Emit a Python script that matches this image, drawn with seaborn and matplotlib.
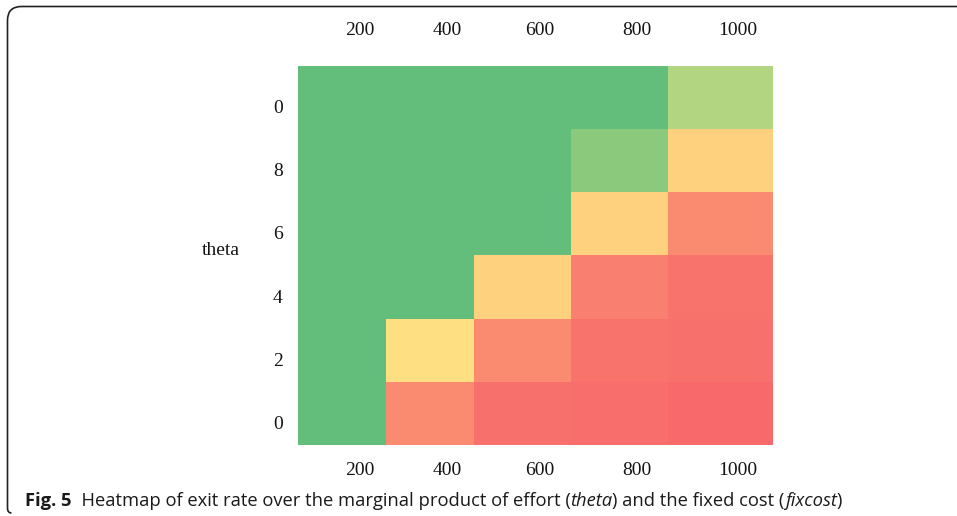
import numpy as np
import pandas as pd
import seaborn as sns
import matplotlib
matplotlib.use("Agg")
import matplotlib.pyplot as plt
from matplotlib.colors import LinearSegmentedColormap
from matplotlib.transforms import ScaledTranslation
from matplotlib.path import Path
from matplotlib.patches import PathPatch

# fixed cost (columns) and marginal product of effort (rows, top to bottom)
fixcost = [200, 400, 600, 800, 1000]
theta_labels = ["0", "8", "6", "4", "2", "0"]

# normalised exit rate per theta row
exit_theta_10 = [0.00, 0.00, 0.00, 0.00, 0.25]
exit_theta_8 = [0.00, 0.00, 0.00, 0.13, 0.60]
exit_theta_6 = [0.00, 0.00, 0.00, 0.60, 0.87]
exit_theta_4 = [0.00, 0.00, 0.60, 0.91, 0.96]
exit_theta_2 = [0.00, 0.54, 0.87, 0.96, 0.97]
exit_theta_0 = [0.00, 0.87, 0.97, 0.98, 1.00]

df = pd.DataFrame(
    [exit_theta_10, exit_theta_8, exit_theta_6, exit_theta_4, exit_theta_2, exit_theta_0],
    index=theta_labels, columns=fixcost,
)

cmap = LinearSegmentedColormap.from_list("gyr", ["#63BE7B", "#FFEB84", "#F8696B"])

# column widths of the grid are not uniform: warp the x axis piecewise-linearly
col_edges = np.array([0, 1, 2, 3, 4, 5], dtype=float)
col_warp = np.array([0, 0.926, 1.853, 2.874, 3.895, 5.0])


def _interp_ext(x, xp, fp):
    x = np.asarray(x, dtype=float)
    y = np.interp(x, xp, fp)
    lo = x < xp[0]
    hi = x > xp[-1]
    y = np.where(lo, fp[0] + (x - xp[0]) * (fp[1] - fp[0]) / (xp[1] - xp[0]), y)
    y = np.where(hi, fp[-1] + (x - xp[-1]) * (fp[-1] - fp[-2]) / (xp[-1] - xp[-2]), y)
    return y


def warp(x):
    return _interp_ext(x, col_edges, col_warp)


def unwarp(x):
    return _interp_ext(x, col_warp, col_edges)


sns.set_style("white")
fig = plt.figure(figsize=(9.57, 5.16), dpi=100)
ax = fig.add_axes([0.3114, 0.1376, 0.4963, 0.7345])

sns.heatmap(df, ax=ax, cmap=cmap, vmin=0, vmax=1, cbar=False,
            xticklabels=fixcost, yticklabels=theta_labels)
ax.set_xscale("function", functions=(warp, unwarp))
ax.set_xlim(0, 5)
ax.set_xticks(np.arange(len(fixcost)) + 0.5)
ax.set_xticklabels(fixcost)
ax.xaxis.set_minor_locator(matplotlib.ticker.NullLocator())

serif = "Liberation Serif"
ax.tick_params(axis="x", top=True, labeltop=True, bottom=True, labelbottom=True,
               length=0, labelsize=14, labelcolor="#141414")
ax.tick_params(axis="y", length=0, labelsize=14, labelcolor="#141414", pad=11)
ax.set_xlabel("")
ax.set_ylabel("")
for lab in ax.get_yticklabels():
    lab.set_rotation(0)
    lab.set_fontfamily(serif)
    lab.set_transform(lab.get_transform() + ScaledTranslation(0, -0.11, fig.dpi_scale_trans))
for t in ax.xaxis.get_major_ticks():
    t.label1.set_rotation(0)
    t.label2.set_rotation(0)
    t.label1.set_transform(t.label1.get_transform() + ScaledTranslation(0.175, -0.12, fig.dpi_scale_trans))
    t.label2.set_transform(t.label2.get_transform() + ScaledTranslation(0.175, 0.22, fig.dpi_scale_trans))
    t.label1.set_fontfamily(serif)
    t.label2.set_fontfamily(serif)

fig.text(0.231, 0.514, "theta", ha="center", va="center", fontsize=14,
         family=serif, color="#141414")

# caption with mixed styles, chained piece by piece
pieces = [
    ("Fig. 5", "bold", "normal"),
    ("  Heatmap of exit rate over the marginal product of effort (", "normal", "normal"),
    ("theta", "normal", "italic"),
    (") and the fixed cost (", "normal", "normal"),
    ("fixcost", "normal", "italic"),
    (")", "normal", "normal"),
]
last = None
for txt, weight, style in pieces:
    kw = dict(fontsize=13.2, family="Open Sans", weight=weight, style=style,
              color="#1a1a1a", va="bottom", ha="left")
    if last is None:
        last = fig.text(25 / 957, 1 - 510 / 516, txt, **kw)
    else:
        last = ax.annotate(txt, xy=(1, 0), xycoords=last, annotation_clip=False, **kw)

# rounded frame on top and left
W, H = 957, 516
r = 14
x0, y0 = 7.5, H - 6.5
verts = [(W + 20, y0), (x0 + r, y0), (x0, y0), (x0, y0 - r), (x0, 8), (x0, 3), (x0 + 4, 3)]
codes = [Path.MOVETO, Path.LINETO, Path.CURVE3, Path.CURVE3, Path.LINETO, Path.CURVE3, Path.CURVE3]
verts = [(vx / W, vy / H) for vx, vy in verts]
frame = PathPatch(Path(verts, codes), transform=fig.transFigure, fill=False,
                  edgecolor="#222222", linewidth=1.2)
fig.add_artist(frame)

fig.savefig("out.png", dpi=100)
